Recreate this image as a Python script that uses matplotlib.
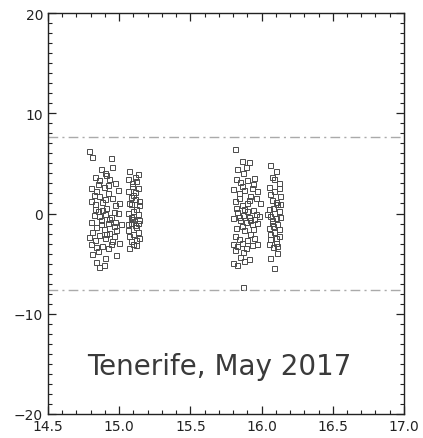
import numpy as np
import matplotlib
matplotlib.use('Agg')
import matplotlib.pyplot as plt
from matplotlib.ticker import MultipleLocator

# first night, first run
a_x = [14.79, 14.81, 14.94, 14.87, 14.90, 14.83, 14.86, 14.93, 14.97, 14.80, 14.84, 14.89, 14.92, 14.86,
       14.95, 14.80, 14.83, 14.88, 14.91, 14.97, 14.85, 14.82, 14.90, 14.94, 14.99, 14.87, 14.80, 14.92,
       14.96, 14.84, 14.89, 14.81, 14.93, 14.98, 14.86, 14.90, 14.83, 14.95, 14.80, 14.88, 14.92, 14.85,
       14.81, 14.90, 14.84, 14.86, 14.89, 14.98, 15.00, 15.01, 14.99, 15.00, 14.95, 14.91, 14.85, 14.82,
       14.93, 14.88, 14.96, 14.87, 14.91, 14.94, 14.83, 14.97, 14.79, 14.86, 14.90, 14.84, 14.92, 14.96]
a_y = [6.2, 5.6, 5.5, 4.4, 4.0, 3.6, 3.3, 3.4, 3.0, 2.5, 2.2, 2.6, 2.0, 1.7,
       1.5, 1.2, 0.9, 1.1, 0.6, 0.8, 0.3, -0.1, 0.0, -0.3, 0.1, -0.6, -0.8, -0.9,
       -1.2, -1.3, -1.5, -1.8, -1.9, -1.6, -2.1, -2.4, -2.6, -2.7, -3.0, -3.2, -3.4, -3.7,
       -4.0, -4.4, -4.8, -5.3, -5.1, -4.1, -2.9, -1.0, 2.3, 1.0, 4.6, 3.8, 2.9, 1.8,
       -0.5, 0.4, 0.2, -1.0, -2.0, -3.0, 0.5, -0.8, -2.3, -0.2, 1.4, -3.3, 2.8, -2.2]

# first night, second run
b_x = [15.07, 15.11, 15.09, 15.13, 15.06, 15.10, 15.14, 15.08, 15.12, 15.06, 15.10, 15.14, 15.08, 15.12,
       15.06, 15.10, 15.14, 15.08, 15.12, 15.07, 15.13, 15.09, 15.11, 15.07, 15.13, 15.09, 15.11, 15.07,
       15.13, 15.10, 15.12, 15.06, 15.14, 15.08, 15.12, 15.10, 15.08, 15.13, 15.06, 15.11]
b_y = [4.2, 3.6, 3.0, 2.5, 2.2, 1.8, 1.2, 0.9, 0.5, 0.1, -0.2, -0.6, -0.9, -1.3,
       -1.6, -2.0, -2.4, -2.7, -3.1, -3.4, 3.9, 2.7, 1.4, 1.0, 0.0, -0.5, -1.1, -2.2,
       -1.8, -3.0, 3.2, 3.4, 0.8, -0.3, -2.6, 0.3, 1.6, -0.9, -1.0, 2.1]

# second night, first run
c_x = [15.81, 15.86, 15.91, 15.83, 15.87, 15.82, 15.85, 15.90, 15.94, 15.80, 15.84, 15.88, 15.92, 15.96,
       15.81, 15.86, 15.90, 15.94, 15.83, 15.87, 15.91, 15.95, 15.98, 15.85, 15.89, 15.93, 15.97, 15.80,
       15.82, 15.88, 15.92, 15.84, 15.80, 15.83, 15.86, 15.89, 15.93, 15.81, 15.85, 15.80, 15.83, 15.88,
       15.91, 15.87, 15.97, 15.95, 15.89, 15.93, 15.84, 15.90, 15.96, 15.86, 15.94, 15.81, 15.90, 15.97,
       15.82, 15.88, 15.92, 15.86, 15.99, 15.84, 15.95, 15.87, 15.91]
c_y = [6.4, 5.2, 5.1, 4.4, 4.0, 3.4, 3.1, 3.3, 2.9, 2.4, 2.0, 2.3, 1.7, 1.5,
       1.2, 0.8, 1.0, 0.4, 0.2, -0.1, -0.3, -0.5, -0.2, -0.6, -0.8, -1.0, -0.9, -0.4,
       -1.4, -1.6, -2.0, -2.5, -3.0, -3.2, -2.9, -3.4, -3.1, -3.6, -4.3, -4.9, -5.1, -4.7,
       -4.5, -7.3, 2.2, 3.5, 4.6, 2.5, 1.5, 0.3, 0.0, -1.2, -1.5, -2.2, -2.6, -3.0,
       0.6, 0.5, -0.6, 2.7, 1.0, -0.3, -2.4, -3.8, 1.3]

# second night, second run
d_x = [16.06, 16.10, 16.07, 16.12, 16.05, 16.09, 16.13, 16.07, 16.11, 16.05, 16.09, 16.13, 16.07, 16.11,
       16.05, 16.09, 16.12, 16.06, 16.10, 16.08, 16.11, 16.06, 16.09, 16.12, 16.06, 16.10, 16.12, 16.06,
       16.10, 16.08, 16.12, 16.06, 16.10, 16.04, 16.08, 16.11, 16.09, 16.07, 16.13, 16.05]
d_y = [4.8, 4.2, 3.6, 3.0, 2.6, 2.2, 1.7, 1.3, 0.9, 0.5, 0.1, -0.3, -0.6, -1.0,
       -1.4, -1.8, -2.2, -2.5, -2.9, -3.3, -3.9, -4.4, -5.4, 2.5, 1.9, 1.1, 0.3, -0.2,
       -0.4, -1.2, -1.5, -2.0, -2.4, 0.0, 0.6, -3.2, 3.4, -0.9, 0.9, -3.0]

limit = 7.6
label = 'Tenerife, May 2017'

fig = plt.figure(figsize=(4.23, 4.39), dpi=100)
ax = fig.add_axes([0.1135, 0.0547, 0.8415, 0.9133])

for xs, ys in [(a_x, a_y), (b_x, b_y), (c_x, c_y), (d_x, d_y)]:
    ax.plot(xs, ys, 's', ms=3.6, mfc='none', mec='#4a4a4a', mew=0.7)

ax.axhline(limit, color='#aaaaaa', lw=1.0, ls='-.', dashes=(7, 3, 1.5, 3))
ax.axhline(-limit, color='#aaaaaa', lw=1.0, ls='-.', dashes=(7, 3, 1.5, 3))

ax.text(15.70, -15.2, label, ha='center', va='center', fontsize=20, color='#3a3a3a')

ax.set_xlim(14.5, 17.0)
ax.set_ylim(-20, 20)
ax.xaxis.set_major_locator(MultipleLocator(0.5))
ax.xaxis.set_minor_locator(MultipleLocator(0.1))
ax.yaxis.set_major_locator(MultipleLocator(10))
ax.yaxis.set_minor_locator(MultipleLocator(1))
ax.xaxis.set_major_formatter(plt.FormatStrFormatter('%.1f'))
ax.tick_params(which='both', direction='in', top=True, right=True, labelsize=10, colors='#222222')
ax.tick_params(which='major', length=6, width=0.9)
ax.tick_params(which='minor', length=3, width=0.8)
for s in ax.spines.values():
    s.set_linewidth(1.0)
    s.set_color('#222222')

fig.savefig('out.png', dpi=100)
